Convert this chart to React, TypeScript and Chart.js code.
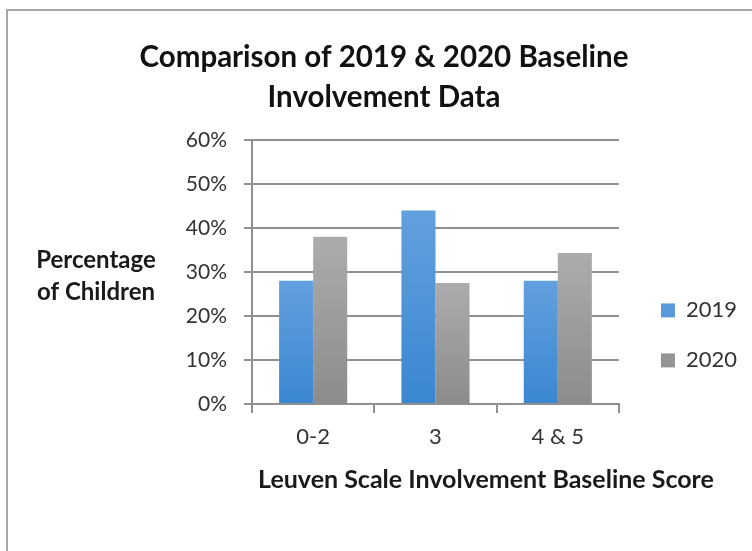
import React, { useEffect, useRef } from 'react';
import { Chart, registerables } from 'chart.js';

Chart.register(...registerables);

const categories = ['0-2', '3', '4 & 5'];
const seriesNames = ['2019', '2020'];
const values2019 = [28, 44, 28];
const values2020 = [38, 27.5, 34.3];
const yTickValues = [0, 10, 20, 30, 40, 50, 60];
const chartTitle = ['Comparison of 2019 & 2020 Baseline', 'Involvement Data'];
const yAxisTitle = ['Percentage', 'of Children'];
const xAxisTitle = 'Leuven Scale Involvement Baseline Score';

const FONT = 'Lato, "Open Sans", sans-serif';
const GRID = '#909090';
const TEXT = '#333333';

const gradients: Record<string, [string, string, string]> = {
  '2019': ['#62a0de', '#3a87d1', '#4a90da'],
  '2020': ['#acacac', '#8c8c8c', '#a3a3a3'],
};

function barColor(name: string) {
  return (ctx: any) => {
    const [top, bottom, solid] = gradients[name];
    if (ctx.type !== 'data') return solid;
    const chart = ctx.chart;
    const yScale = chart.scales && chart.scales.y;
    if (!chart.chartArea || !yScale) return solid;
    const yTop = yScale.getPixelForValue(ctx.raw);
    const yBottom = yScale.getPixelForValue(0);
    if (!isFinite(yTop) || !isFinite(yBottom) || yTop === yBottom) return solid;
    const g = chart.ctx.createLinearGradient(0, yTop, 0, yBottom);
    g.addColorStop(0, top);
    g.addColorStop(1, bottom);
    return g;
  };
}

const framePlugin = {
  id: 'frame',
  beforeDraw(chart: any) {
    const c = chart.ctx;
    c.save();
    c.fillStyle = '#ffffff';
    c.fillRect(0, 0, chart.width, chart.height);
    c.fillStyle = '#a8a8a8';
    c.fillRect(6, 9, chart.width - 6, 2);
    c.fillRect(6, 9, 2, chart.height - 9);
    c.restore();
  },
};

const axisTitlePlugin = {
  id: 'axisTitles',
  afterDraw(chart: any) {
    const c = chart.ctx;
    const area = chart.chartArea;
    c.save();
    c.fillStyle = '#1a1a1a';
    c.textAlign = 'center';
    c.textBaseline = 'middle';
    c.font = `bold 24px ${FONT}`;
    yAxisTitle.forEach((line, i) => {
      c.fillText(line, area.left - 156, area.top + 120 + i * 32);
    });
    c.font = `bold 25px ${FONT}`;
    c.fillText(xAxisTitle, area.left + 234, area.bottom + 76);
    c.restore();
  },
};

export default function App() {
  const ref = useRef<HTMLCanvasElement | null>(null);

  useEffect(() => {
    if (!ref.current) return;
    const chart = new Chart(ref.current, {
      type: 'bar',
      data: {
        labels: categories,
        datasets: [
          {
            label: seriesNames[0],
            data: values2019,
            backgroundColor: barColor('2019'),
            borderWidth: 0,
            barPercentage: 1,
            categoryPercentage: 0.557,
          },
          {
            label: seriesNames[1],
            data: values2020,
            backgroundColor: barColor('2020'),
            borderWidth: 0,
            barPercentage: 1,
            categoryPercentage: 0.557,
          },
        ],
      },
      options: {
        animation: false,
        responsive: false,
        maintainAspectRatio: false,
        devicePixelRatio: 1,
        layout: { padding: { left: 21, right: 5, top: 0, bottom: 103 } },
        plugins: {
          tooltip: { enabled: false },
          title: {
            display: true,
            text: chartTitle,
            color: '#111111',
            font: { family: FONT, size: 29.5, weight: 'bold', lineHeight: 40 / 29.5 },
            padding: { top: 37, bottom: 23 },
          },
          legend: {
            display: true,
            position: 'right',
            align: 'start',
            fullSize: true,
            title: { display: true, text: '', padding: { top: 257, bottom: 0 }, font: { size: 12 } },
            labels: {
              boxWidth: 14,
              boxHeight: 14,
              padding: 28,
              color: TEXT,
              font: { family: FONT, size: 22 },
            },
          },
        },
        scales: {
          x: {
            grid: {
              display: true,
              drawOnChartArea: false,
              drawTicks: true,
              tickLength: 9,
              color: GRID,
              lineWidth: 2,
              offset: true,
            },
            border: { display: true, color: GRID, width: 2 },
            ticks: { color: TEXT, font: { family: FONT, size: 22 }, padding: 11 },
            afterFit: (s: any) => { s.height = 44; },
          },
          y: {
            min: 0,
            max: 60,
            afterBuildTicks: (s: any) => { s.ticks = yTickValues.map((v) => ({ value: v })); },
            ticks: {
              color: TEXT,
              font: { family: FONT, size: 21 },
              padding: 17,
              callback: (v: any) => `${v}%`,
            },
            grid: { color: GRID, lineWidth: 2, tickLength: 8, drawTicks: true },
            border: { display: true, color: GRID, width: 2 },
            afterFit: (s: any) => { s.width = 231; },
          },
          yR: {
            position: 'right',
            display: true,
            grid: { display: false },
            border: { display: false },
            ticks: { display: false },
            afterFit: (s: any) => { s.width = 14; },
          },
        },
      },
      plugins: [framePlugin, axisTitlePlugin],
    });
    return () => chart.destroy();
  }, []);

  return (
    <div style={{ position: 'fixed', left: 0, top: 0, width: 752, height: 551, background: '#fff' }}>
      <canvas ref={ref} width={752} height={551} style={{ width: 752, height: 551, display: 'block' }} />
    </div>
  );
}
